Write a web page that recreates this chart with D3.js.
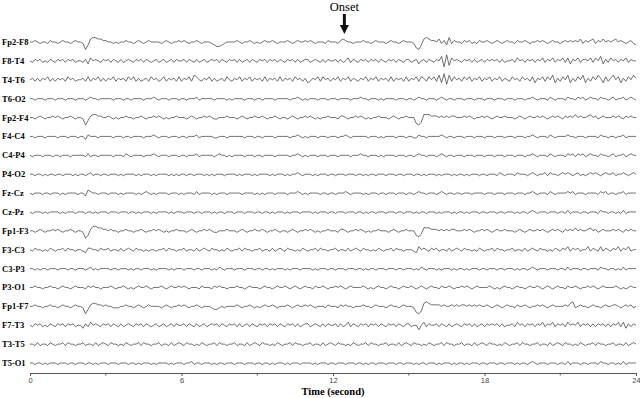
<!DOCTYPE html>
<html>
<head>
<meta charset="utf-8">
<script src="https://cdn.jsdelivr.net/npm/d3@7"></script>
<style>
  body { margin: 0; background: #fff; }
  .label { font-family: "Liberation Serif", "Times New Roman", serif; font-weight: bold; font-size: 8.5px; }
  .tick text { font-family: "Liberation Sans", Arial, sans-serif; font-size: 7.5px; fill: #444; }
  .trace { fill: none; stroke: #333; stroke-width: 0.7; }
</style>
</head>
<body>
<svg id="chart" width="640" height="398"></svg>
<script>
// channel names, top to bottom
const channels = ["Fp2-F8", "F8-T4", "T4-T6", "T6-O2", "Fp2-F4", "F4-C4", "C4-P4", "P4-O2",
  "Fz-Cz", "Cz-Pz", "Fp1-F3", "F3-C3", "C3-P3", "P3-O1", "Fp1-F7", "F7-T3", "T3-T5", "T5-O1"];

// traces, one digit every 0.1 s (5 = baseline), grouped by second
const traces = [
  "5565455465 5456554565 5403788776 6554545565 5456545655 5545654556 5654556545 5543223455 5565455654 5456556545 5565456556 5654555465 5546765545 5565545655 5456554565 5541037876 6574638465 5465645465 5654565456 5546556545 5656545655 4565656574 6567465756 5675654564 3",
  "5465645465 4656465645 5463756546 5646546456 5465646545 6456456465 5646546456 4565646546 5646456465 4656465646 5465646456 6456546465 5646457465 4656465646 5465646546 6456356465 4658192756 5465646456 4656564645 5647564656 4657465746 5747365746 6574758364 7564657465 5",
  "5646465746 4656475645 5647465746 4657465647 5746456475 6457465647 4657487546 5746456475 4657465746 5647465647 4656475646 3465747564 6574657465 4657465746 5647465647 4657476475 7483928475 6475746574 6574657465 4756475647 3657475836 4758364758 3647586374 6857364758 6",
  "5545554555 4555455545 5545655455 5554555455 4555545556 5455545554 5545556455 5554555545 4555545554 5545555455 5554556545 4555455545 5545555455 5655455545 4555545554 5545655455 5456545545 5545554555 4555455545 5545554556 5455546545 5546554656 4565546554 5645564565 4",
  "5545654556 5654556545 5403677665 5654545565 5455654556 5654545565 5545654556 5654455565 5545654556 5565455654 5545654556 5654545565 5546654556 5654545565 5545654556 5551027776 6656565665 5565654556 5654565565 5545654565 5656545656 5465657565 5675645655 5656546565 5",
  "5545554555 5455545554 5536555455 5554555455 4555545556 5455545554 5545556455 5554455545 5555545554 5545555455 5554556545 4555455545 5545565455 5555455545 4555545554 5544655455 5556545545 5545554555 4555455545 5545554556 5455546545 5556554555 4555546554 5545564555 5",
  "5455545554 5545554555 5546455455 5554555465 4555545556 5455545554 5545556455 5554565545 4555545554 5545555455 5554556545 4555455545 5545555455 5655455545 4555545554 5545655455 5456545545 5545554555 4555455545 5545554556 5455546545 5546564656 4565546554 5645564565 5",
  "5545545455 4554555454 5545645545 5455545455 5545455545 4555545454 5545545554 5454555455 5545455545 4555545455 5454556545 5545455545 5455545554 5545455455 5455545545 5545545455 5454555454 5545455545 5455546545 5546555456 5455646554 5656545645 4565654565 5645565456 5",
  "5455545545 5545455554 5537655455 5455545455 5545456545 4555545554 5455546455 5545455545 5555455554 5454555455 5545556545 4555545545 5455565455 5545455545 5455545554 5545655455 5456545545 5455545555 4555455545 5545554556 5455546545 5556564555 4555546564 5545564555 5",
  "5455545455 5545455545 5545545455 5455545554 5545455545 4555545455 5455545545 5545455455 5455545554 5545545455 5454555455 5545455545 5455545554 5545455455 5455545545 5545455455 5454555454 5545455545 5455545545 5545455456 5455545554 5546455545 5455546554 5545464555 5",
  "5545654556 5654556545 5402688776 6565545565 5455654556 5654545565 5545654556 5654455565 5545654556 5565455654 5545654556 5654545565 5546654556 5654545565 5545654556 5552137776 6656565665 5565654556 5654565565 5545654565 5656545656 5465657565 5675645655 5656546565 5",
  "5465545465 4556465545 5436655465 5645546456 5465545455 4556465545 5645546456 5465545465 4556465545 5645546456 5465545465 4556465545 5645546456 5465545465 4556465545 5543756546 5645546456 5465545465 4556465545 5645546456 5465545465 4657465645 5746547465 4657465745 5",
  "5545455455 5455545545 5545645455 5545545554 5455455545 4555545455 5455545545 5545465455 5455545554 5545545455 5454555455 5545455545 5455545554 5545455455 5455545545 5545465455 5454555454 5545455545 5455545545 5545455456 5455545554 5546455545 5455546554 5545464555 5",
  "5565545565 5456554565 5546565545 5565455654 5456556545 5565456556 5654555465 5546565545 5565545655 5456554565 5654565456 5546556545 5656545655 5565454565 5456554565 5654565456 5546556545 5656545655 5565454565 5456554565 5654565456 5546556545 5656545655 5565454565 5",
  "5565545565 5456554565 5403677665 6554445565 5456545655 5545654556 5654556545 5543345455 5565455654 5456556545 5565456556 5654555465 5546565545 5565545655 5456554565 5541027876 6665655656 5665656565 5654565456 5546556545 5656545655 5565784565 5456554565 5665456564 5",
  "5465645465 4656465645 5364756546 5646546456 5465646545 6456456465 5646546456 4565646546 5646456465 4656465646 5465646456 6456546465 5646457465 4656465646 5465646546 6455257465 5646546456 5465646456 4656564645 5647564656 4657465746 5647565746 5646465646 4657473646 5",
  "5546455465 4556465545 5645546456 5465545465 4556465545 5645546456 5465545465 4556465545 5645546456 5465545465 4556465545 5645546456 5465545465 4556465545 5645546456 5465545465 4556465545 5645546456 5465545465 4556465545 5645546456 5465545465 4556465545 5645546456 5",
  "5545545455 5455545545 5545545455 5455545554 5545455545 4555545455 5455645545 5545455455 5455545554 5545545455 5454555455 5545455545 5455545554 5545455455 5455545545 5545455455 5454555454 5545455545 5455545545 5545455456 5455545554 5546455545 5455546554 5545464555 5"
];

const majorTicks = [0, 6, 12, 18, 24];
const minorTicks = [3, 9, 15, 21];
const onsetTime = 12.45;
const duration = 24;

const svg = d3.select("#chart");

const x = d3.scaleLinear().domain([0, duration]).range([30, 636]);
const yRow = d3.scalePoint().domain(channels).range([42, 363]);
const amp = d3.scaleLinear().domain([-5, 5]).range([7.5, -7.5]);

// parse traces
const series = traces.map(s => {
  const digits = s.replace(/\s/g, "").split("").map(Number);
  const step = duration / (digits.length - 1);
  return digits.map((d, i) => ({ t: i * step, v: d - 5 }));
});

const line = d3.line()
  .x(d => x(d.t))
  .y(d => amp(d.v));

const rows = svg.append("g").selectAll("g")
  .data(channels)
  .join("g")
  .attr("transform", d => `translate(0,${yRow(d)})`);

rows.append("path")
  .attr("class", "trace")
  .attr("d", (d, i) => line(series[i]));

rows.append("text")
  .attr("class", "label")
  .attr("x", 2)
  .attr("dy", "0.35em")
  .text(d => d);

// axis
const axisY = 373;
const axis = d3.axisBottom(x)
  .tickValues(majorTicks)
  .tickSize(3)
  .tickPadding(1.5)
  .tickSizeOuter(0)
  .tickFormat(d3.format("d"));

const ax = svg.append("g")
  .attr("transform", `translate(0,${axisY})`)
  .call(axis);
ax.select(".domain").attr("stroke", "#555");
ax.selectAll(".tick line").attr("stroke", "#555");

svg.append("g")
  .attr("transform", `translate(0,${axisY})`)
  .selectAll("line")
  .data(minorTicks)
  .join("line")
  .attr("x1", d => x(d)).attr("x2", d => x(d))
  .attr("y1", 0).attr("y2", 2.5)
  .attr("stroke", "#555");

svg.append("text")
  .attr("x", x(12))
  .attr("y", 395)
  .attr("text-anchor", "middle")
  .style("font-family", "'Liberation Serif', 'Times New Roman', serif")
  .style("font-weight", "bold")
  .style("font-size", "10.5px")
  .text("Time (second)");

// onset marker
const ox = x(onsetTime);
svg.append("text")
  .attr("x", ox)
  .attr("y", 11)
  .attr("text-anchor", "middle")
  .style("font-family", "'Liberation Serif', 'Times New Roman', serif")
  .style("font-size", "12.5px")
  .text("Onset");

svg.append("line")
  .attr("x1", ox).attr("x2", ox)
  .attr("y1", 14).attr("y2", 27)
  .attr("stroke", "#111")
  .attr("stroke-width", 3);

svg.append("path")
  .attr("d", `M${ox - 4.5},25 L${ox + 4.5},25 L${ox},34 Z`)
  .attr("fill", "#111");
</script>
</body>
</html>
